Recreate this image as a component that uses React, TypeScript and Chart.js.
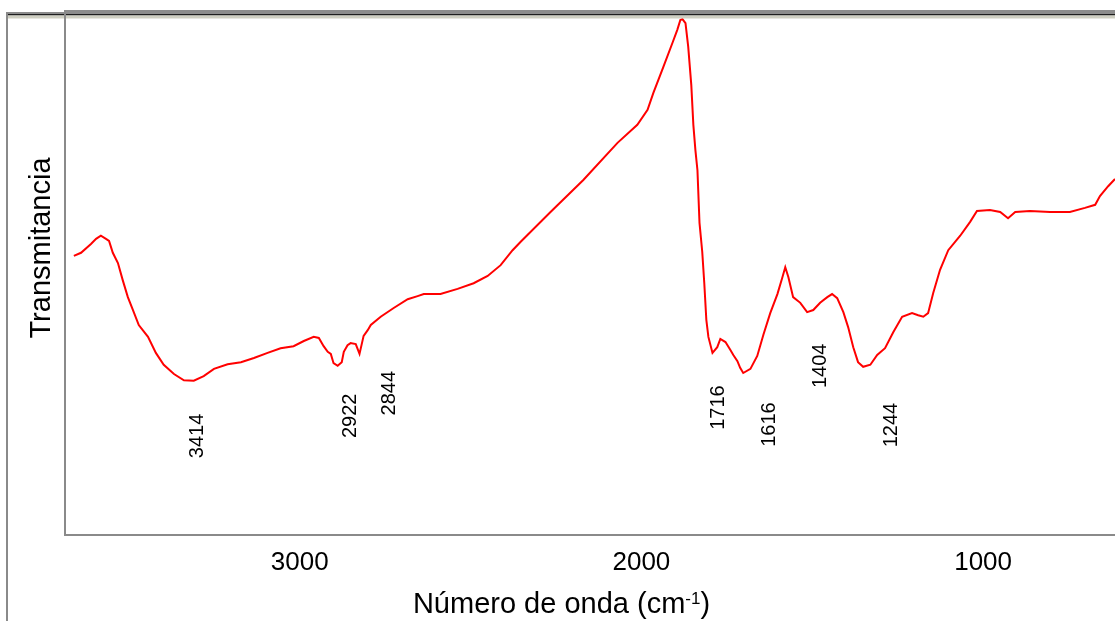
import React, { useEffect, useRef } from "react";
import { Chart, registerables } from "chart.js";

Chart.register(...registerables);

// Wavenumber (cm-1) of each sampled point of the spectrum
const wavenumbers = [
  3661, 3640, 3611, 3596, 3582, 3567, 3558, 3547, 3532, 3518,
  3503, 3488, 3471, 3444, 3421, 3398, 3368, 3339, 3310, 3281,
  3251, 3211, 3172, 3134, 3094, 3056, 3018, 2988, 2959, 2944,
  2930, 2918, 2909, 2901, 2889, 2877, 2871, 2860, 2851, 2836,
  2825, 2813, 2801, 2792, 2763, 2725, 2684, 2655, 2637, 2588,
  2538, 2491, 2450, 2412, 2377, 2354, 2266, 2170, 2070, 2012,
  1982, 1965, 1936, 1909, 1895, 1886, 1880, 1871, 1863, 1854,
  1848, 1842, 1836, 1830, 1822, 1816, 1810, 1804, 1792, 1778,
  1769, 1754, 1740, 1731, 1719, 1711, 1702, 1681, 1661, 1643,
  1623, 1602, 1588, 1579, 1570, 1556, 1535, 1515, 1497, 1477,
  1456, 1442, 1427, 1409, 1395, 1380, 1366, 1351, 1330, 1310,
  1287, 1263, 1237, 1208, 1190, 1175, 1161, 1146, 1126, 1102,
  1067, 1038, 1018, 980, 950, 927, 906, 863, 804, 746,
  702, 672, 658, 634, 614,
];

// Transmittance (arbitrary units, 0-100)
const transmittance = [
  53.9, 54.5, 56.2, 57.2, 57.8, 57.2, 56.8, 54.5, 52.5, 49.2,
  45.9, 43.4, 40.5, 38.2, 35.1, 32.8, 31.0, 29.8, 29.7, 30.6,
  32.0, 32.9, 33.3, 34.1, 35.1, 36.0, 36.4, 37.4, 38.2, 38.0,
  36.4, 35.3, 34.9, 33.1, 32.6, 33.3, 35.3, 36.6, 37.0, 36.8,
  34.9, 38.4, 39.5, 40.5, 42.1, 43.8, 45.5, 46.1, 46.5, 46.5,
  47.5, 48.6, 50.0, 52.1, 55.0, 56.6, 62.4, 68.6, 75.8, 79.3,
  82.2, 85.5, 90.5, 95.2, 97.7, 99.6, 99.8, 99.0, 94.4, 87.0,
  79.3, 74.4, 70.5, 60.3, 54.7, 48.6, 41.5, 38.2, 35.1, 36.2,
  37.8, 37.2, 35.7, 34.7, 33.5, 32.2, 31.2, 32.0, 34.5, 38.6,
  42.8, 46.5, 49.6, 51.7, 49.8, 45.9, 44.8, 43.0, 43.4, 44.8,
  45.9, 46.5, 45.7, 43.0, 40.1, 36.2, 33.3, 32.4, 32.8, 34.7,
  36.0, 39.1, 42.1, 42.8, 42.4, 42.1, 42.8, 46.7, 51.2, 55.0,
  57.8, 60.5, 62.6, 62.8, 62.4, 61.2, 62.4, 62.6, 62.4, 62.4,
  63.2, 63.8, 65.5, 67.4, 68.8,
];

// X-axis tick values
const xTickValues = [3000, 2000, 1000];

// Peak annotations: text, placement wavenumber, placement transmittance
const peakLabels = ["3414", "2922", "2844", "1716", "1616", "1404", "1244"];
const peakLabelWn = [3298, 2852, 2737, 1775, 1626, 1477, 1269];
const peakLabelT = [19.0, 22.9, 27.3, 24.5, 21.2, 32.6, 21.1];

const FONT = '"Liberation Sans", Arial, sans-serif';

const framePlugin = {
  id: "frame",
  afterDraw(chart: any) {
    const ctx = chart.ctx;
    const W = chart.width;
    const ca = chart.chartArea;
    ctx.save();
    // top band
    ctx.fillStyle = "#8c8c8c";
    ctx.fillRect(6, 12, ca.left - 6, 2);
    ctx.fillRect(ca.left - 2, 10, W, 4);
    ctx.fillStyle = "#1e1e1e";
    ctx.fillRect(6, 14, W, 1.5);
    ctx.fillStyle = "#cfcfc2";
    ctx.fillRect(6, 15.5, W, 3);
    // outer left line
    ctx.fillStyle = "#8a8a8a";
    ctx.fillRect(6, 12, 2, chart.height);
    // plot left axis line
    ctx.fillRect(ca.left - 2, 10, 2, ca.bottom + 2 - 10);
    // bottom axis line
    ctx.fillRect(ca.left - 2, ca.bottom, W, 2);

    // axis titles
    ctx.fillStyle = "#000";
    ctx.textBaseline = "alphabetic";
    // x title with superscript
    const main = "Número de onda (cm";
    const sup = "-1";
    const close = ")";
    ctx.font = `29px ${FONT}`;
    const wMain = ctx.measureText(main).width;
    const wClose = ctx.measureText(close).width;
    ctx.font = `17px ${FONT}`;
    const wSup = ctx.measureText(sup).width;
    const total = wMain + wSup + wClose;
    let x0 = 561.5 - total / 2;
    const base = 613;
    ctx.textAlign = "left";
    ctx.font = `29px ${FONT}`;
    ctx.fillText(main, x0, base);
    ctx.font = `17px ${FONT}`;
    ctx.fillText(sup, x0 + wMain, base - 9);
    ctx.font = `29px ${FONT}`;
    ctx.fillText(close, x0 + wMain + wSup, base);

    // y title
    ctx.save();
    ctx.translate(50, 248);
    ctx.rotate(-Math.PI / 2);
    ctx.textAlign = "center";
    ctx.font = `29px ${FONT}`;
    ctx.fillText("Transmitancia", 0, 0);
    ctx.restore();

    // peak labels
    const xs = chart.scales.x;
    const ys = chart.scales.y;
    ctx.font = `20px ${FONT}`;
    ctx.textAlign = "center";
    ctx.textBaseline = "middle";
    peakLabels.forEach((t, i) => {
      const px = xs.getPixelForValue(peakLabelWn[i]);
      const py = ys.getPixelForValue(peakLabelT[i]);
      ctx.save();
      ctx.translate(px, py);
      ctx.rotate(-Math.PI / 2);
      ctx.fillText(t, 0, 0);
      ctx.restore();
    });
    ctx.restore();
  },
};

export default function App() {
  const canvasRef = useRef<HTMLCanvasElement | null>(null);

  useEffect(() => {
    if (!canvasRef.current) return;
    const points = wavenumbers.map((x, i) => ({ x, y: transmittance[i] }));
    const chart = new Chart(canvasRef.current, {
      type: "line",
      data: {
        datasets: [
          {
            data: points,
            borderColor: "#ff0000",
            borderWidth: 2,
            pointRadius: 0,
            tension: 0,
            fill: false,
          },
        ],
      },
      options: {
        animation: false,
        responsive: false,
        devicePixelRatio: 1,
        layout: { padding: { top: 18, left: 66, right: 0, bottom: 0 } },
        plugins: {
          legend: { display: false },
          tooltip: { enabled: false },
        },
        scales: {
          x: {
            type: "linear",
            reverse: true,
            min: 614,
            max: 3684,
            grid: { display: false, drawTicks: false },
            border: { display: false },
            ticks: {
              color: "#000",
              font: { family: FONT, size: 26 },
              padding: 13,
              maxRotation: 0,
              callback: (v: any) => String(v),
            },
            afterBuildTicks: (scale: any) => {
              scale.ticks = xTickValues.map((value) => ({ value }));
            },
            afterFit: (scale: any) => {
              scale.height = 87;
            },
          },
          y: {
            display: false,
            min: 0,
            max: 100,
          },
        },
      },
      plugins: [framePlugin],
    });
    return () => chart.destroy();
  }, []);

  return (
    <div style={{ position: "absolute", left: 0, top: 0, width: 1115, height: 621, background: "#fff" }}>
      <canvas ref={canvasRef} width={1115} height={621} />
    </div>
  );
}
